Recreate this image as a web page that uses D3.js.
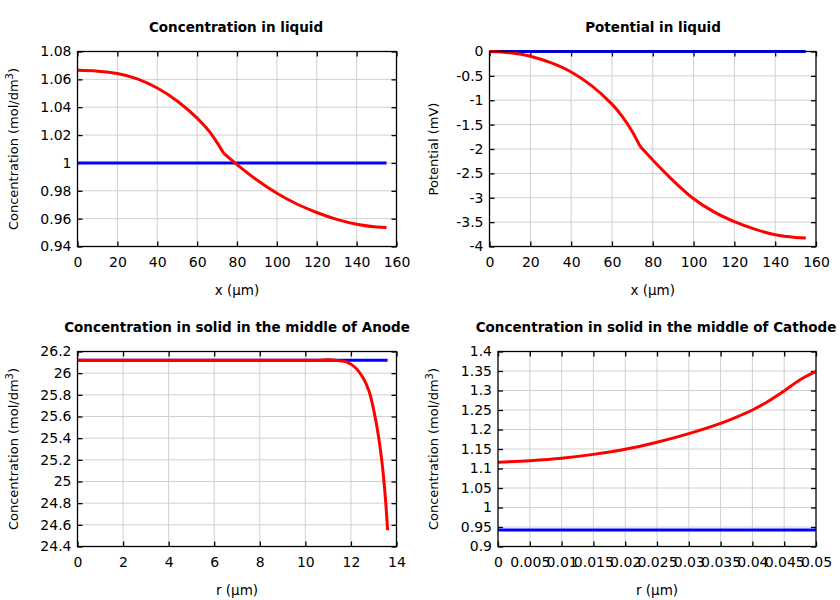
<!DOCTYPE html>
<html>
<head>
<meta charset="utf-8">
<script src="https://cdn.jsdelivr.net/npm/d3@7"></script>
<style>
  body { margin: 0; background: #fff; }
  text { font-family: "DejaVu Sans", sans-serif; }
</style>
</head>
<body>
<div id="container"></div>
<script>
// data

// concentration in liquid
const liqX = [0, 10, 20, 30, 40, 50, 60, 66, 70, 73.5, 80, 90, 100, 110, 120, 130, 140, 150, 155];
const liqConc = [1.0665, 1.0659, 1.0642, 1.0604, 1.0538, 1.0445, 1.0322, 1.0228, 1.0146, 1.0066, 0.9988, 0.9877, 0.9782, 0.9705, 0.9644, 0.9595, 0.956, 0.954, 0.9537];
const liqXInit = [0, 155];
const liqConcInit = [1, 1];

// potential in liquid
const potX = [0, 10, 20, 30, 40, 50, 60, 65, 70, 73.8, 80, 90, 100, 110, 120, 130, 140, 150, 155];
const potVal = [0, -0.027, -0.096, -0.23, -0.42, -0.70, -1.08, -1.33, -1.644, -1.945, -2.226, -2.65, -3.02, -3.29, -3.49, -3.645, -3.76, -3.815, -3.825];
const potInit = [0, 0];

// solid, anode
const anR = [0, 10.5, 11, 11.5, 11.8, 12.2, 12.55, 12.8, 13.0, 13.2, 13.35, 13.45, 13.53, 13.61];
const anConc = [26.12, 26.12, 26.123, 26.115, 26.105, 26.05, 25.95, 25.83, 25.66, 25.43, 25.2, 25.0, 24.8, 24.55];
const anRInit = [0, 13.61];
const anInit = [26.12, 26.12];

// solid, cathode
const caR = [0, 0.005, 0.01, 0.015, 0.02, 0.025, 0.03, 0.035, 0.0375, 0.04, 0.0425, 0.045, 0.0475, 0.05];
const caConc = [1.1161, 1.1201, 1.1263, 1.1362, 1.1492, 1.1672, 1.1893, 1.2158, 1.2318, 1.25, 1.2725, 1.299, 1.3275, 1.349];
const caRInit = [0, 0.05];
const caInit = [0.942, 0.942];

// ticks
const xTicksLiq = [0, 20, 40, 60, 80, 100, 120, 140, 160];
const yTicksConc = [0.94, 0.96, 0.98, 1, 1.02, 1.04, 1.06, 1.08];
const yTicksPot = [0, -0.5, -1, -1.5, -2, -2.5, -3, -3.5, -4];
const xTicksAn = [0, 2, 4, 6, 8, 10, 12, 14];
const yTicksAn = [24.4, 24.6, 24.8, 25, 25.2, 25.4, 25.6, 25.8, 26, 26.2];
const xTicksCa = [0, 0.005, 0.01, 0.015, 0.02, 0.025, 0.03, 0.035, 0.04, 0.045, 0.05];
const yTicksCa = [0.9, 0.95, 1, 1.05, 1.1, 1.15, 1.2, 1.25, 1.3, 1.35, 1.4];

const width = 840;
const height = 600;

const svg = d3.select("#container")
  .append("svg")
    .attr("width", width)
    .attr("height", height);

const fmt = d => String(+d.toFixed(4));

function drawPanel(p) {
  const g = svg.append("g").attr("transform", "translate(" + p.left + "," + p.top + ")");
  const w = p.width, h = p.height;

  const x = d3.scaleLinear().domain(p.xDomain).range([0, w]);
  const y = d3.scaleLinear().domain(p.yDomain).range([h, 0]);

  // grid
  g.append("g").selectAll("line").data(p.xTicks.slice(1, -1)).enter()
    .append("line")
      .attr("x1", d => x(d)).attr("x2", d => x(d))
      .attr("y1", 0).attr("y2", h)
      .attr("stroke", "#d0d0d0").attr("stroke-width", 1);
  g.append("g").selectAll("line").data(p.yTicks.slice(1, -1)).enter()
    .append("line")
      .attr("y1", d => y(d)).attr("y2", d => y(d))
      .attr("x1", 0).attr("x2", w)
      .attr("stroke", "#d0d0d0").attr("stroke-width", 1);

  // axes, ticks pointing inward on all four sides
  const tl = 5;
  const bottom = g.append("g").attr("transform", "translate(0," + h + ")")
    .call(d3.axisBottom(x).tickValues(p.xTicks).tickFormat(fmt).tickSizeInner(-tl).tickSizeOuter(0).tickPadding(11));
  const top = g.append("g")
    .call(d3.axisTop(x).tickValues(p.xTicks).tickFormat("").tickSizeInner(-tl).tickSizeOuter(0));
  const left = g.append("g")
    .call(d3.axisLeft(y).tickValues(p.yTicks).tickFormat(fmt).tickSizeInner(-tl).tickSizeOuter(0).tickPadding(6));
  const right = g.append("g").attr("transform", "translate(" + w + ",0)")
    .call(d3.axisRight(y).tickValues(p.yTicks).tickFormat("").tickSizeInner(-tl).tickSizeOuter(0));
  [bottom, top, left, right].forEach(a => {
    a.select(".domain").remove();
    a.selectAll("line").attr("stroke", "#000").attr("stroke-width", 1.3);
    a.selectAll("text").attr("font-size", 14).attr("fill", "#000")
      .attr("font-family", "DejaVu Sans, sans-serif");
  });

  // lines
  const line = d3.line()
    .x(d => x(d[0]))
    .y(d => y(d[1]))
    .curve(d3.curveCatmullRom.alpha(0.5));

  g.append("path")
    .datum(d3.zip(p.initX, p.initY))
    .attr("d", line)
    .attr("fill", "none")
    .attr("stroke", "#0000ff")
    .attr("stroke-width", 3);

  // the red curve has a corner at the electrode/separator boundary
  const pts = d3.zip(p.curX, p.curY);
  const parts = p.breakAt == null ? [pts]
    : [pts.filter(d => d[0] <= p.breakAt), pts.filter(d => d[0] >= p.breakAt)];
  parts.forEach(part => {
    g.append("path")
      .datum(part)
      .attr("d", line)
      .attr("fill", "none")
      .attr("stroke", "#ff0000")
      .attr("stroke-width", 3)
      .attr("stroke-linejoin", "round");
  });

  // frame
  g.append("rect")
    .attr("x", 0).attr("y", 0)
    .attr("width", w).attr("height", h)
    .attr("fill", "none")
    .attr("stroke", "#000")
    .attr("stroke-width", 1.3);

  // title
  g.append("text")
    .attr("x", p.titleX - p.left)
    .attr("y", -20)
    .attr("text-anchor", "middle")
    .attr("font-size", 13.5)
    .attr("font-weight", "bold")
    .text(p.title);

  // x label
  g.append("text")
    .attr("x", w / 2)
    .attr("y", h + 48)
    .attr("text-anchor", "middle")
    .attr("font-size", 13.5)
    .text(p.xLabel);

  // y label
  const yl = svg.append("text")
    .attr("transform", "translate(" + p.yLabelX + "," + (p.top + h / 2) + ") rotate(-90)")
    .attr("text-anchor", "middle")
    .attr("font-size", 13)
    .text(p.yLabel);
  if (p.ySup) {
    yl.append("tspan").attr("dy", -5).attr("font-size", 10).text(p.ySup);
    yl.append("tspan").attr("dy", 5).text(")");
  }
}

drawPanel({
  left: 77.5, top: 51.5, width: 319, height: 195,
  xDomain: [0, 160], yDomain: [0.94, 1.08],
  xTicks: xTicksLiq, yTicks: yTicksConc, breakAt: 73.5,
  initX: liqXInit, initY: liqConcInit, curX: liqX, curY: liqConc,
  title: "Concentration in liquid", titleX: 236,
  xLabel: "x (\u03bcm)", yLabel: "Concentration (mol/dm", ySup: "3", yLabelX: 18
});

drawPanel({
  left: 489.5, top: 51.5, width: 326.5, height: 195,
  xDomain: [0, 160], yDomain: [-4, 0],
  xTicks: xTicksLiq, yTicks: yTicksPot, breakAt: 73.8,
  initX: liqXInit, initY: potInit, curX: potX, curY: potVal,
  title: "Potential in liquid", titleX: 653,
  xLabel: "x (\u03bcm)", yLabel: "Potential (mV)", ySup: null, yLabelX: 438
});

drawPanel({
  left: 77.5, top: 351.5, width: 319, height: 195,
  xDomain: [0, 14], yDomain: [24.4, 26.2],
  xTicks: xTicksAn, yTicks: yTicksAn, breakAt: null,
  initX: anRInit, initY: anInit, curX: anR, curY: anConc,
  title: "Concentration in solid in the middle of Anode", titleX: 237,
  xLabel: "r (\u03bcm)", yLabel: "Concentration (mol/dm", ySup: "3", yLabelX: 18
});

drawPanel({
  left: 498, top: 351.5, width: 318, height: 195,
  xDomain: [0, 0.05], yDomain: [0.9, 1.4],
  xTicks: xTicksCa, yTicks: yTicksCa, breakAt: null,
  initX: caRInit, initY: caInit, curX: caR, curY: caConc,
  title: "Concentration in solid in the middle of Cathode", titleX: 656,
  xLabel: "r (\u03bcm)", yLabel: "Concentration (mol/dm", ySup: "3", yLabelX: 438
});
</script>
</body>
</html>
